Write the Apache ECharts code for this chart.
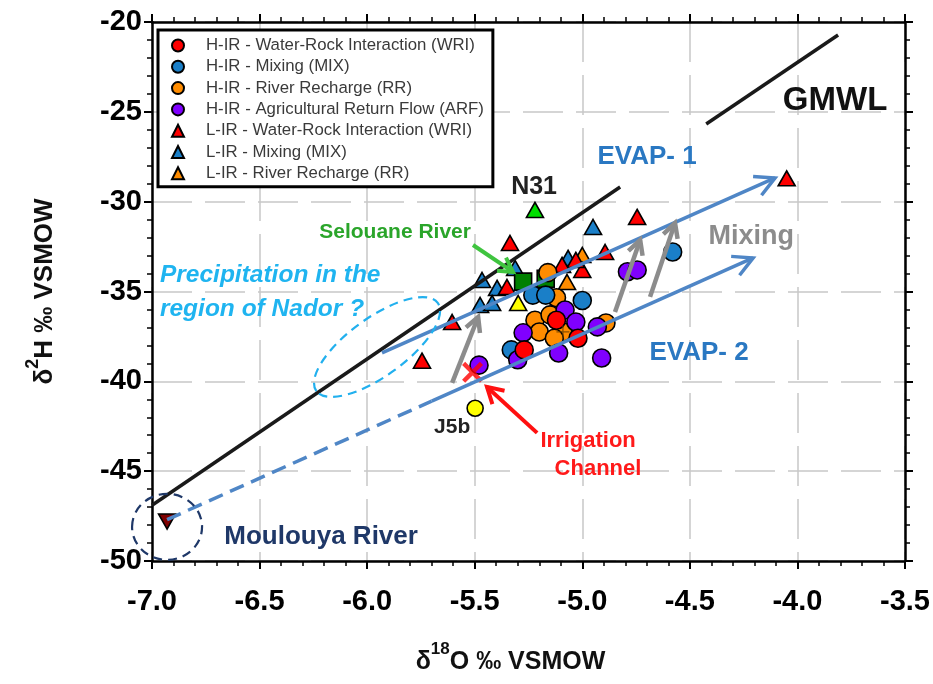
<!DOCTYPE html>
<html><head><meta charset="utf-8">
<script src="https://cdn.jsdelivr.net/npm/echarts@6/dist/echarts.min.js"></script>
<style>html,body{margin:0;padding:0;background:#fff}#c{width:933px;height:684px}</style>
</head><body><div id="c"></div>
<script>
const FONT = '"Liberation Sans", Arial, sans-serif';

// ---- axes ----
const xMin = -7.0, xMax = -3.5, xStep = 0.5;
const yMin = -50, yMax = -20, yStep = 5;

// ---- legend names ----
const seriesNames = [
  'H-IR - Water-Rock Interaction (WRI)',
  'H-IR - Mixing (MIX)',
  'H-IR - River Recharge (RR)',
  'H-IR - Agricultural Return Flow (ARF)',
  'L-IR - Water-Rock Interaction (WRI)',
  'L-IR - Mixing (MIX)',
  'L-IR - River Recharge (RR)'
];

// ---- data (d18O, d2H) ----
const hirWRI = [[-5.12,-36.6],[-5.02,-37.6],[-5.27,-38.25]];
const hirMIX = [[-4.58,-32.8],[-5.0,-35.5],[-5.33,-38.25],[-5.23,-35.2],[-5.17,-35.2]];
const hirRR  = [[-5.16,-33.95],[-5.12,-35.35],[-5.22,-36.6],[-5.15,-36.3],[-5.20,-37.25],[-5.09,-37.25],[-4.89,-36.75],[-5.13,-37.6]];
const hirARF = [[-4.79,-33.9],[-4.745,-33.8],[-5.08,-36.03],[-5.03,-36.7],[-5.275,-37.3],[-4.93,-36.97],[-5.30,-38.8],[-5.11,-38.42],[-4.91,-38.7],[-5.48,-39.1]];
const lirWRI = [[-4.05,-28.7],[-4.745,-30.85],[-5.336,-32.3],[-4.894,-32.8],[-5.0,-33.8],[-5.03,-33.24],[-5.094,-33.52],[-5.35,-34.75],[-5.605,-36.7],[-5.745,-38.85]];
const lirMIX = [[-4.95,-31.41],[-5.466,-34.36],[-5.312,-33.69],[-5.066,-33.13],[-5.396,-34.8],[-5.475,-35.75],[-5.419,-35.64]];
const lirRR  = [[-5.0,-32.97],[-5.071,-34.47]];
const n31 = [[-5.22,-30.46]];
const selouane = [[-5.275,-34.45],[-5.17,-34.3]];
const yellowTri = [[-5.298,-35.64]];
const j5b = [[-5.498,-41.5]];
const irrigation = [[-5.51,-39.5]];
const moulouya = [[-6.93,-47.8]];
const crossedPoint = [[-5.09,-37.25]];

// ---- lines ----
const gmwl1 = [[-7.0,-46.9],[-4.824,-29.18]];
const gmwl2 = [[-4.424,-25.68],[-3.811,-20.72]];
const evap2Dashed = [[-6.93,-47.7],[-5.70,-41.1]];
// arrows: x1, y1, x2, y2, style index
const arrows = [
  [-5.931,-38.42,-4.104,-28.68,0],
  [-5.70,-41.1,-4.206,-33.13,0],
  [-5.605,-40.09,-5.484,-36.42,1],
  [-4.848,-36.14,-4.731,-32.13,1],
  [-4.685,-35.30,-4.569,-31.19,1],
  [-5.508,-32.41,-5.322,-33.91,2],
  [-5.210,-42.87,-5.443,-40.31,3]
];
const arrowStyles = [
  {color:'#4f86c6', width:3.5, head:22, ang:28},
  {color:'#8c8c8c', width:4.5, head:16, ang:28},
  {color:'#3fc43f', width:4, head:16, ang:30},
  {color:'#ff1010', width:4, head:18, ang:30}
];
// ellipses: cx, cy, style index
const ellipses = [[-5.954,-38.09,0],[-6.93,-48.1,1]];
const ellipseStyles = [
  {rx:75, ry:29, rot:36, color:'#22b0ee', width:2.2, dash:[9,6]},
  {rx:35, ry:33, rot:0, color:'#1f3868', width:2.2, dash:[9,6]}
];

// ---- annotation texts ----
const annoText = ['GMWL','EVAP- 1','EVAP- 2','Mixing','N31','Selouane River','Precipitation in the','region of Nador ?','J5b','Irrigation','Channel','Moulouya River'];
const annoPos = [[-3.825,-24.40],[-4.699,-27.51],[-4.457,-38.42],[-4.215,-31.96],[-5.224,-29.18],[-5.87,-31.69],[-6.963,-34.08],[-6.963,-35.97],[-5.605,-42.54],[-4.973,-43.32],[-4.927,-44.87],[-6.214,-48.66]];
const annoStyle = [
  {size:33, color:'#111', align:'center'},
  {size:26, color:'#2a78c2', align:'center'},
  {size:26, color:'#2a78c2', align:'center'},
  {size:27, color:'#8c8c8c', align:'center'},
  {size:25, color:'#222', align:'center'},
  {size:21, color:'#2aa52a', align:'center'},
  {size:24.5, color:'#1fb4f0', align:'left', italic:true},
  {size:24.5, color:'#1fb4f0', align:'left', italic:true},
  {size:21, color:'#222', align:'center'},
  {size:22, color:'#ff1a1a', align:'center'},
  {size:22, color:'#ff1a1a', align:'center'},
  {size:26, color:'#1f3868', align:'center'}
];

const border = {borderColor:'#000', borderWidth:1.6};
function scat(name, data, symbol, color, size, z, rot) {
  return {type:'scatter', name, data, symbol, symbolSize:size, z: z||3, symbolRotate: rot||0,
    itemStyle:Object.assign({color, opacity:1}, border), emphasis:{disabled:true}};
}
const TRI = [17,15];
const CIR = 18;

const chart = echarts.init(document.getElementById('c'));
const axisCommon = {
  axisLine:{show:true, onZero:false, lineStyle:{color:'#000', width:2.5}},
  axisTick:{show:true, inside:false, length:8, lineStyle:{color:'#000', width:2}},
  minorTick:{show:true, splitNumber:5, length:5, lineStyle:{color:'#000', width:1.5}},
};
function xa(extra){return Object.assign({}, axisCommon, {type:'value', min:xMin, max:xMax, interval:xStep}, extra);}
function ya(extra){return Object.assign({}, axisCommon, {type:'value', min:yMin, max:yMax, interval:yStep}, extra);}

const textData = annoText.map((t,i)=>[annoPos[i][0], annoPos[i][1], i]);

const option = {
  animation:false,
  backgroundColor:'#fff',
  textStyle:{fontFamily:FONT},
  grid:{left:152, right:28, top:22, bottom:123, containLabel:false},
  xAxis:[
    xa({position:'bottom',
      axisLabel:{show:true, margin:26, fontSize:29, fontWeight:'bold', color:'#000', fontFamily:FONT, formatter:v=>v.toFixed(1)},
      splitLine:{show:true, lineStyle:{color:'#c8c8c8', width:1.5, type:[40,13]}},
      name:'{a|δ}{s|18}{a|O ‰ VSMOW}', nameLocation:'middle', nameGap:80,
      nameTextStyle:{padding:[0,36,0,0], rich:{
        a:{fontSize:25, fontWeight:'bold', color:'#111', fontFamily:FONT, lineHeight:34, verticalAlign:'bottom'},
        s:{fontSize:17, fontWeight:'bold', color:'#111', fontFamily:FONT, lineHeight:18, verticalAlign:'top'}}}
    }),
    xa({position:'top', axisLabel:{show:false}, splitLine:{show:false}})
  ],
  yAxis:[
    ya({position:'left',
      axisLabel:{show:true, margin:10, fontSize:29, fontWeight:'bold', color:'#000', fontFamily:FONT},
      splitLine:{show:true, lineStyle:{color:'#c8c8c8', width:1.5, type:[40,13]}},
      name:'{a|δ}{s|2}{a|H ‰ VSMOW}', nameLocation:'middle', nameGap:94, nameRotate:90,
      nameTextStyle:{rich:{
        a:{fontSize:26, fontWeight:'bold', color:'#111', fontFamily:FONT, lineHeight:34, verticalAlign:'bottom'},
        s:{fontSize:18, fontWeight:'bold', color:'#111', fontFamily:FONT, lineHeight:18, verticalAlign:'top'}}}
    }),
    ya({position:'right', axisLabel:{show:false}, splitLine:{show:false}})
  ],
  legend:{
    data: seriesNames, orient:'vertical', left:158, top:30,
    padding:[7,9,5,13], itemWidth:12, itemHeight:12, itemGap:4.3,
    backgroundColor:'#fff', borderColor:'#000', borderWidth:3,
    textStyle:{fontSize:16.8, color:'#3a3a3a', fontFamily:FONT, padding:[0,0,0,17]},
    selectedMode:false
  },
  series:[
    scat(seriesNames[6], lirRR, 'triangle', '#ff8c00', TRI),
    scat(seriesNames[5], lirMIX, 'triangle', '#1a7fc8', TRI),
    scat(seriesNames[4], lirWRI, 'triangle', '#ff0000', TRI),
    scat('N31', n31, 'triangle', '#00e000', TRI),
    scat('Yellow', yellowTri, 'triangle', '#ffff00', TRI),
    scat('Selouane', selouane, 'rect', '#008000', 17),
    scat(seriesNames[2], hirRR, 'circle', '#ff8c00', CIR, 4),
    scat(seriesNames[1], hirMIX, 'circle', '#1a7fc8', CIR, 4),
    scat(seriesNames[3], hirARF, 'circle', '#8000ff', CIR, 4),
    scat(seriesNames[0], hirWRI, 'circle', '#ff0000', CIR, 4),
    scat('J5b', j5b, 'circle', '#ffff00', 16, 4),
    {type:'scatter', name:'cross', data:crossedPoint, z:5, symbolSize:13,
      symbol:'path://M9,0H11V9H20V11H11V20H9V11H0V9H9Z', itemStyle:{color:'#6a4000'}},
    scat('Moulouya', moulouya, 'triangle', '#7f0000', [17,15], 4, 180),
    {type:'scatter', name:'Irrigation', data:irrigation, z:6, symbolSize:21,
      symbol:'path://M0,3L3,0L10,7L17,0L20,3L13,10L20,17L17,20L10,13L3,20L0,17L7,10Z', itemStyle:{color:'#ff0000'}},
    {type:'line', name:'gmwl1', data:gmwl1, showSymbol:false, symbol:'none', z:7, silent:true,
      lineStyle:{color:'#1a1a1a', width:3.5}},
    {type:'line', name:'gmwl2', data:gmwl2, showSymbol:false, symbol:'none', z:7, silent:true,
      lineStyle:{color:'#1a1a1a', width:3.5}},
    {type:'line', name:'evap2d', data:evap2Dashed, showSymbol:false, symbol:'none', z:7, silent:true,
      lineStyle:{color:'#4f86c6', width:3.5, type:[15,8]}},
    {type:'custom', name:'arrows', data:arrows, z:8, silent:true, encode:{x:[0,2], y:[1,3]},
      renderItem:function(params, api){
        const p1 = api.coord([api.value(0), api.value(1)]);
        const p2 = api.coord([api.value(2), api.value(3)]);
        const st = arrowStyles[api.value(4)];
        const ang = Math.atan2(p2[1]-p1[1], p2[0]-p1[0]);
        const a = st.ang*Math.PI/180, L = st.head;
        const h1 = [p2[0]-L*Math.cos(ang-a), p2[1]-L*Math.sin(ang-a)];
        const h2 = [p2[0]-L*Math.cos(ang+a), p2[1]-L*Math.sin(ang+a)];
        return {type:'group', children:[
          {type:'polyline', shape:{points:[p1,p2]}, style:{stroke:st.color, lineWidth:st.width, fill:null}},
          {type:'polyline', shape:{points:[h1,p2,h2]}, style:{stroke:st.color, lineWidth:st.width, fill:null, lineJoin:'miter'}}
        ]};
      }},
    {type:'custom', name:'ellipses', data:ellipses, z:8, silent:true, encode:{x:0, y:1},
      renderItem:function(params, api){
        const c = api.coord([api.value(0), api.value(1)]);
        const st = ellipseStyles[api.value(2)];
        return {type:'ellipse', x:c[0], y:c[1], rotation:st.rot*Math.PI/180,
          shape:{cx:0, cy:0, rx:st.rx, ry:st.ry},
          style:{stroke:st.color, lineWidth:st.width, fill:null, lineDash:st.dash}};
      }},
    {type:'custom', name:'texts', data:textData, z:10, silent:true, encode:{x:0, y:1},
      renderItem:function(params, api){
        const p = api.coord([api.value(0), api.value(1)]);
        const i = api.value(2);
        const st = annoStyle[i];
        return {type:'text', x:p[0], y:p[1], style:{text:annoText[i], fill:st.color,
          fontSize:st.size, fontWeight:'bold', fontStyle: st.italic?'italic':'normal',
          fontFamily:FONT, align:st.align, verticalAlign:'middle'}};
      }}
  ]
};
chart.setOption(option);
</script>
</body></html>
